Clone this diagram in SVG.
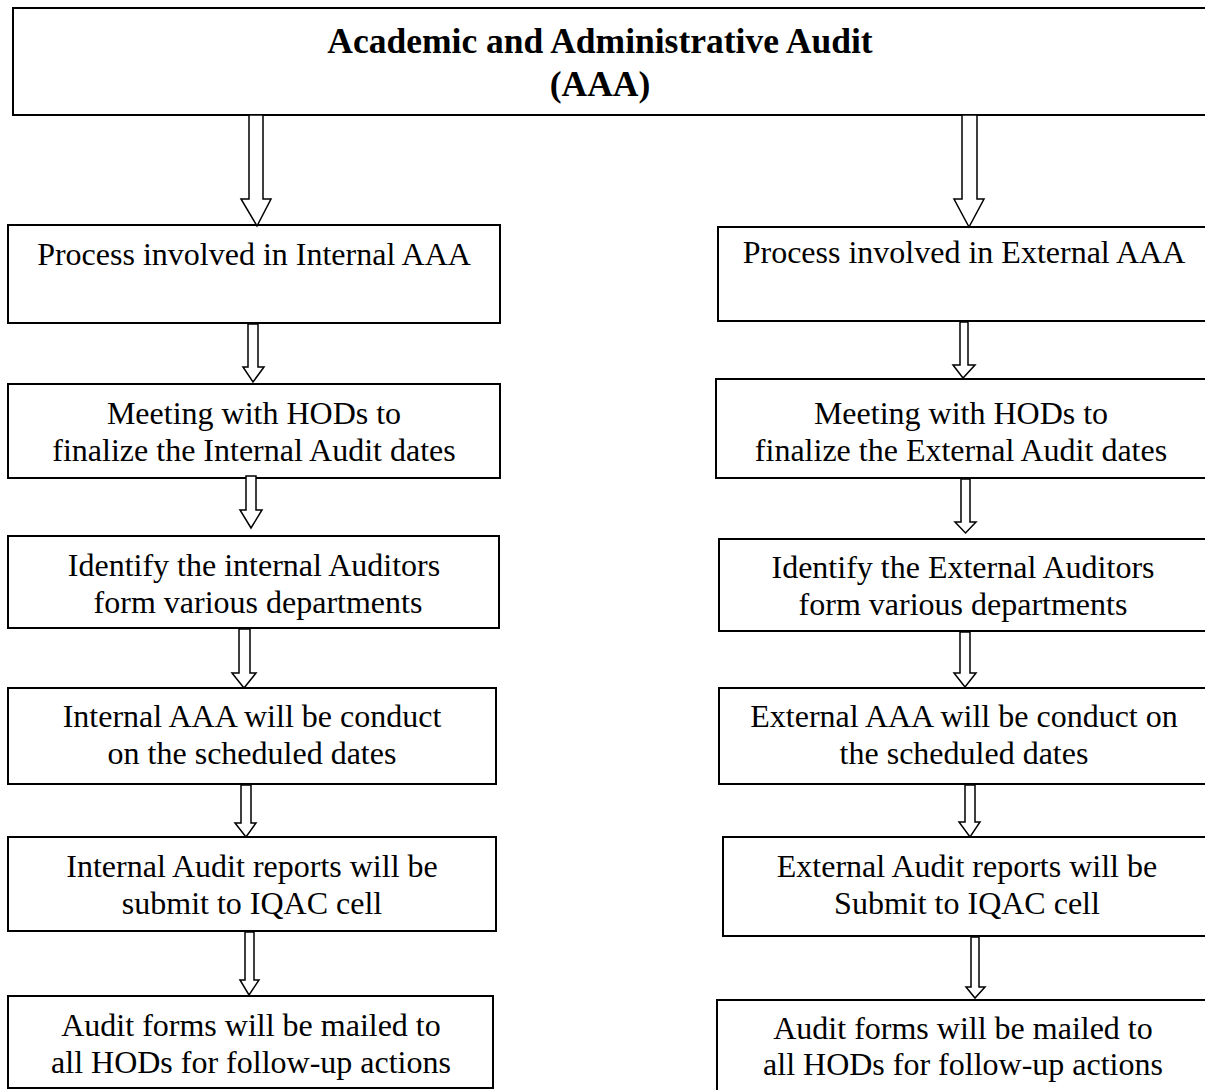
<svg xmlns="http://www.w3.org/2000/svg" width="1205" height="1090" viewBox="0 0 1205 1090">
<style>
.box{fill:#fff;stroke:#000;stroke-width:2}
.t{font-family:"Liberation Serif","Times New Roman",serif;font-size:32px;fill:#000;text-anchor:middle}
.title{font-family:"Liberation Serif","Times New Roman",serif;font-size:35.5px;font-weight:bold;fill:#000;text-anchor:middle}
.arr{fill:#fff;stroke:#000;stroke-width:1.5;stroke-linejoin:miter}
</style>
<rect width="1205" height="1090" fill="#fff"/>
<g id="title">
<rect class="box" x="13" y="8" width="1210" height="107"/>
<text class="title" x="600" y="53">Academic and Administrative Audit</text>
<text class="title" x="600" y="96">(AAA)</text>
</g>
<g id="int1"><rect class="box" x="8" y="225" width="492" height="98"/><text class="t" x="254" y="265">Process involved in Internal AAA</text></g>
<g id="int2"><rect class="box" x="8" y="384" width="492" height="94"/><text class="t" x="254" y="424">Meeting with HODs to</text><text class="t" x="254" y="461">finalize the Internal Audit dates</text></g>
<g id="int3"><rect class="box" x="8" y="536" width="491" height="92"/><text class="t" x="254" y="576">Identify the internal Auditors</text><text class="t" x="258" y="613">form various departments</text></g>
<g id="int4"><rect class="box" x="8" y="688" width="488" height="96"/><text class="t" x="252" y="727">Internal AAA will be conduct</text><text class="t" x="252" y="764">on the scheduled dates</text></g>
<g id="int5"><rect class="box" x="8" y="837" width="488" height="94"/><text class="t" x="252" y="877">Internal Audit reports will be</text><text class="t" x="252" y="914">submit to IQAC cell</text></g>
<g id="int6"><rect class="box" x="8" y="996" width="485" height="92"/><text class="t" x="251" y="1036">Audit forms will be mailed to</text><text class="t" x="251" y="1073">all HODs for follow-up actions</text></g>
<g id="ext1"><rect class="box" x="718" y="227" width="500" height="94"/><text class="t" x="964" y="263">Process involved in External AAA</text></g>
<g id="ext2"><rect class="box" x="716" y="379" width="500" height="99"/><text class="t" x="961" y="424">Meeting with HODs to</text><text class="t" x="961" y="461">finalize the External Audit dates</text></g>
<g id="ext3"><rect class="box" x="719" y="539" width="500" height="92"/><text class="t" x="963" y="578">Identify the External Auditors</text><text class="t" x="963" y="615">form various departments</text></g>
<g id="ext4"><rect class="box" x="719" y="688" width="500" height="96"/><text class="t" x="964" y="727">External AAA will be conduct on</text><text class="t" x="964" y="764">the scheduled dates</text></g>
<g id="ext5"><rect class="box" x="723" y="837" width="500" height="99"/><text class="t" x="967" y="877">External Audit reports will be</text><text class="t" x="967" y="914">Submit to IQAC cell</text></g>
<g id="ext6"><rect class="box" x="717" y="1000" width="500" height="100"/><text class="t" x="963" y="1039">Audit forms will be mailed to</text><text class="t" x="963" y="1075">all HODs for follow-up actions</text></g>
<g id="connectors">
<path class="arr" d="M249,115 L263,115 L263,199 L271,199 L257,226 L241,199 L249,199 Z"/>
<path class="arr" d="M962,115 L977,115 L977,199 L984,199 L969,227 L954,199 L962,199 Z"/>
<path class="arr" d="M248,324 L258,324 L258,367 L264,367 L253,382 L243,367 L248,367 Z"/>
<path class="arr" d="M960,322 L968,322 L968,365 L975,365 L963,378 L953,365 L960,365 Z"/>
<path class="arr" d="M246,476 L256,476 L256,510 L262,510 L251,528 L240,510 L246,510 Z"/>
<path class="arr" d="M961,479 L970,479 L970,522 L976,522 L965.5,533 L955,522 L961,522 Z"/>
<path class="arr" d="M239,629 L250,629 L250,673 L256,673 L244,688 L232,673 L239,673 Z"/>
<path class="arr" d="M960,632 L970,632 L970,673 L976,673 L965,687 L954,673 L960,673 Z"/>
<path class="arr" d="M241,785 L251,785 L251,823 L256,823 L246,837 L235,823 L241,823 Z"/>
<path class="arr" d="M965,785 L975,785 L975,822 L980,822 L970,837 L959,822 L965,822 Z"/>
<path class="arr" d="M245,932 L254,932 L254,980 L259,980 L249,995 L240,980 L245,980 Z"/>
<path class="arr" d="M971,937 L979,937 L979,987 L985,987 L975,998 L966,987 L971,987 Z"/>
</g>
</svg>
